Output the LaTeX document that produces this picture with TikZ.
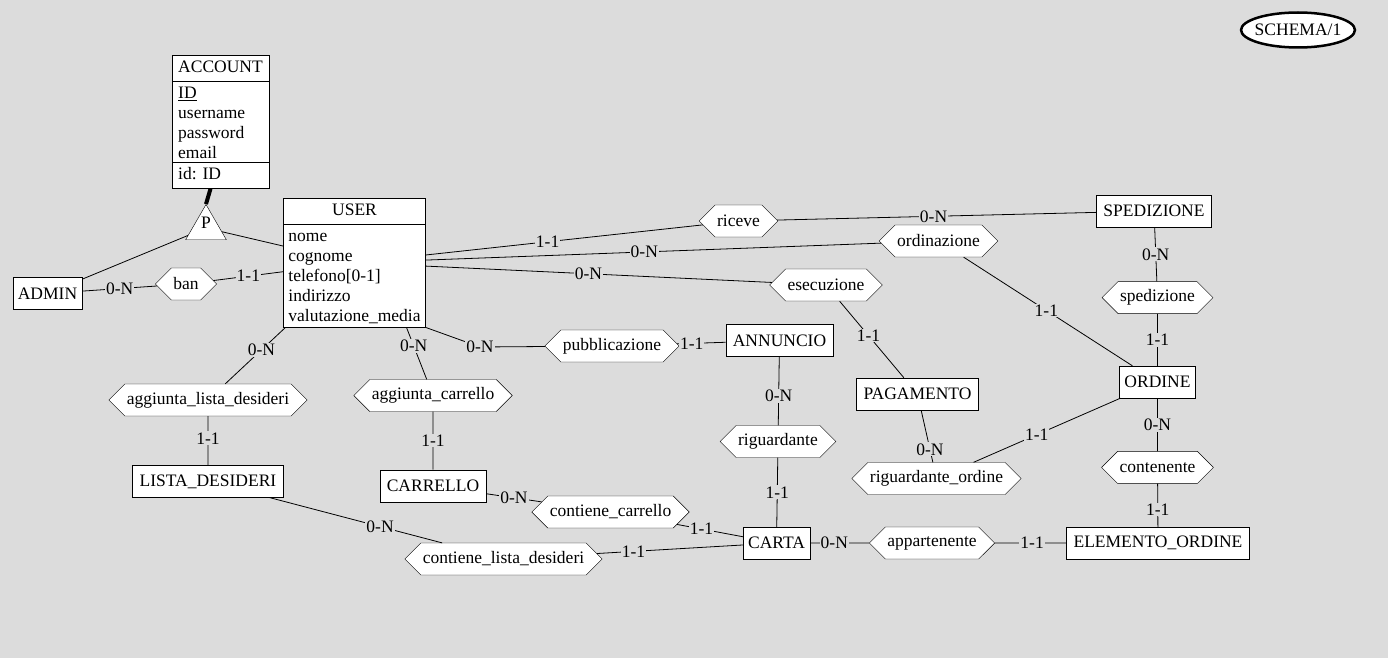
\documentclass[tikz,border=0pt]{standalone}
\usepackage{fontspec}
\setmainfont{Liberation Serif}
\usepackage{tikz}
\usetikzlibrary{shapes.geometric,shapes.symbols,shapes.multipart,positioning}
\definecolor{canvasgray}{RGB}{220,220,220}
\tikzset{
  entbox/.style={draw, fill=white, minimum height=32pt, inner xsep=7pt, inner ysep=2pt},
  entsplit/.style={draw, fill=white, rectangle split, align=left, rectangle split part align={center,left,left}, inner xsep=5pt, inner ysep=3pt},
  relhex/.style={draw, fill=white, signal, signal to=west and east, signal pointer angle=90, minimum height=32pt, inner xsep=2pt, inner ysep=0pt},
  cardlbl/.style={fill=canvasgray, inner sep=1pt},
  link/.style={line width=0.8pt},
  isalink/.style={line width=4pt},
}

\begin{document}
\begin{tikzpicture}[x=1pt, y=-1pt, font=\fontsize{17.5}{20}\selectfont]
  \fill[canvasgray] (0,0) rectangle (1388,658);
  \useasboundingbox (0,0) rectangle (1388,658);

  % Schema tag
  \node[draw, ellipse, line width=2.5pt, fill=white, minimum height=35pt, inner xsep=-3pt, inner ysep=0pt] (schema) at (1298,30) {SCHEMA/1};

  % Account hierarchy
  \node[entsplit, rectangle split parts=3, inner xsep=6pt, anchor=north] (account) at (220.5,55) {\strut ACCOUNT \nodepart{two}\strut\underline{ID}\\username\\password\\email \nodepart{three}\strut id: ID};
  \node[draw, fill=white, regular polygon, regular polygon sides=3, minimum size=47pt, inner sep=0pt, label={[yshift=5pt]center:P}] (gen) at (206,228) {};
  \node[entsplit, rectangle split parts=2, anchor=north] (user) at (354.5,198) {\strut USER \nodepart{two}\strut nome\\cognome\\telefono[0-1]\\indirizzo\\valutazione\_media};
  \node[entbox, inner xsep=5pt] (admin) at (47.5,293.5) {ADMIN};
  \node[relhex] (ban) at (186,284) {ban};

  % Entities
  \node[entbox] (spedizione) at (1154,211) {SPEDIZIONE};
  \node[entbox] (pagamento) at (917.5,394) {PAGAMENTO};
  \node[entbox] (annuncio) at (779.5,340.5) {ANNUNCIO};
  \node[entbox, inner xsep=5pt] (ordine) at (1157.5,382) {ORDINE};
  \node[entbox, inner xsep=5pt] (carta) at (776.5,543) {CARTA};
  \node[entbox] (elemento) at (1158,543) {ELEMENTO\_ORDINE};

  % Relationships
  \node[relhex] (riceve) at (738.5,221) {riceve};
  \node[relhex] (ordinazione) at (938.5,241) {ordinazione};
  \node[relhex] (esecuzione) at (826,285) {esecuzione};
  \node[relhex] (pubblicazione) at (612,346) {pubblicazione};
  \node[relhex] (riguardante) at (778,441.5) {riguardante};
  \node[relhex] (riguardord) at (936.5,478.5) {riguardante\_ordine};
  \node[relhex, above=52pt of ordine] (spedrel) {spedizione};
  \node[relhex, below=53pt of ordine] (contenente) {contenente};
  \node[relhex] (appartenente) at (932,543) {appartenente};
  \node[relhex] (aggdesideri) at (208,400) {aggiunta\_lista\_desideri};
  \node[relhex] (aggcarrello) at (433,395.5) {aggiunta\_carrello};
  \node[relhex] (contcarrello) at (610.5,512) {contiene\_carrello};
  \node[relhex] (contdesideri) at (503.5,559) {contiene\_lista\_desideri};

  % Entities under the wish and cart links
  \node[entbox, below=49pt of aggdesideri] (desideri) {LISTA\_DESIDERI};
  \node[entbox, below=58pt of aggcarrello] (carrello) {CARRELLO};

  \coordinate (pubbend) at (480,347);

  % Links
  \draw[isalink] (gen.corner 1) -- ([xshift=-10pt]account.south);
  \draw[link] (gen) -- (admin);
  \draw[link] (gen) -- (user);
  \draw[link] (admin) -- node[cardlbl]{0-N} (ban);
  \draw[link] (ban) -- node[cardlbl]{1-1} (user);
  \draw[link] (user) -- node[cardlbl, pos=0.44]{1-1} (riceve);
  \draw[link] (riceve) -- node[cardlbl, pos=0.49]{0-N} (spedizione);
  \draw[link] (user) -- node[cardlbl, pos=0.48]{0-N} (ordinazione);
  \draw[link] (ordinazione) -- node[cardlbl, pos=0.49]{1-1} (ordine);
  \draw[link] (user) -- node[cardlbl, pos=0.47]{0-N} (esecuzione);
  \draw[link] (esecuzione) -- node[cardlbl, pos=0.45]{1-1} (pagamento);
  \draw[link] (user.south east) -- (pubbend) node[cardlbl]{0-N} -- (pubblicazione);
  \draw[link] (pubblicazione) -- node[cardlbl, pos=0.3]{1-1} (annuncio);
  \draw[link] (annuncio) -- node[cardlbl, pos=0.57]{0-N} (riguardante);
  \draw[link] (riguardante) -- node[cardlbl]{1-1} (carta);
  \draw[link] (pagamento) -- node[cardlbl, pos=0.75]{0-N} (riguardord);
  \draw[link] (riguardord) -- node[cardlbl, pos=0.43]{1-1} (ordine);
  \draw[link] (spedizione) -- node[cardlbl]{0-N} (spedrel);
  \draw[link] (spedrel) -- node[cardlbl]{1-1} (ordine);
  \draw[link] (ordine) -- node[cardlbl]{0-N} (contenente);
  \draw[link] (contenente) -- node[cardlbl, pos=0.6]{1-1} (elemento);
  \draw[link] (carta) -- node[cardlbl, pos=0.41]{0-N} (appartenente);
  \draw[link] (appartenente) -- node[cardlbl, pos=0.52]{1-1} (elemento);
  \draw[link] (user) -- node[cardlbl, pos=0.4]{0-N} (aggdesideri);
  \draw[link] (aggdesideri) -- node[cardlbl, pos=0.45]{1-1} (desideri);
  \draw[link] ([xshift=52pt]user.south) -- node[cardlbl, pos=0.36]{0-N} (aggcarrello);
  \draw[link] (aggcarrello) -- node[cardlbl]{1-1} (carrello);
  \draw[link] (carrello) -- node[cardlbl]{0-N} (contcarrello);
  \draw[link] (contcarrello) -- node[cardlbl, pos=0.37]{1-1} (carta);
  \draw[link] (desideri) -- node[cardlbl, pos=0.64]{0-N} (contdesideri);
  \draw[link] (contdesideri) -- node[cardlbl, pos=0.25]{1-1} (carta);
\end{tikzpicture}
\end{document}
